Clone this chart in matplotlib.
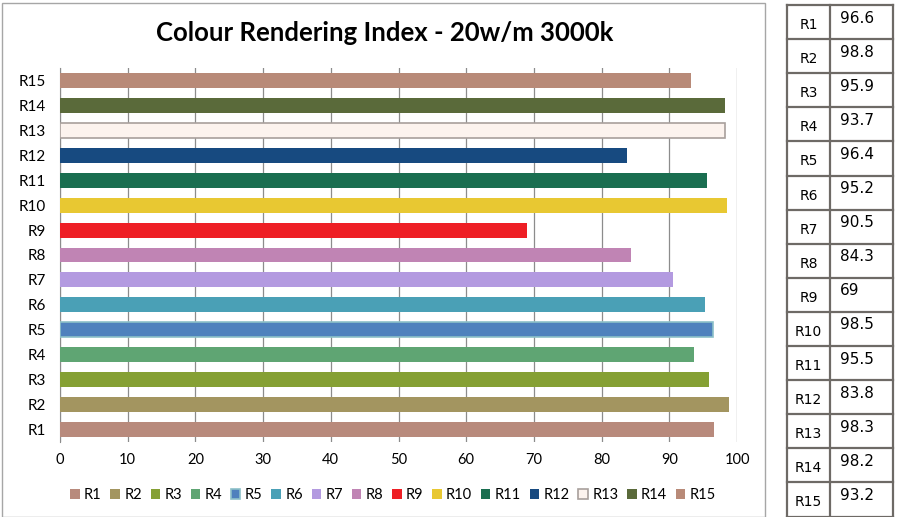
import matplotlib
matplotlib.use("Agg")
import matplotlib.pyplot as plt
from matplotlib.patches import Rectangle

labels = ["R1", "R2", "R3", "R4", "R5", "R6", "R7", "R8", "R9", "R10",
          "R11", "R12", "R13", "R14", "R15"]
values = [96.6, 98.8, 95.9, 93.7, 96.4, 95.2, 90.5, 84.3, 69, 98.5,
          95.5, 83.8, 98.3, 98.2, 93.2]
table_values = ["96.6", "98.8", "95.9", "93.7", "96.4", "95.2", "90.5", "84.3",
                "69", "98.5", "95.5", "83.8", "98.3", "98.2", "93.2"]
colors = ["#B88A7C", "#A39560", "#85A034", "#5FA573", "#4F81BD", "#4AA0B6",
          "#B39AE0", "#C084B4", "#EE1F25", "#E8C832", "#1A6E50", "#174A80",
          "#FCF3EE", "#5A6A3A", "#B88A78"]
edges = [None] * 15
edges[4] = "#8CC0C8"
edges[12] = "#A8A09C"

W, H = 901, 517
fig = plt.figure(figsize=(W / 100, H / 100), dpi=100)
font = "Lato"

# chart frame
fig.patches.append(Rectangle((2 / W, 0), 763 / W, 1 - 3 / H, transform=fig.transFigure,
                             fill=False, edgecolor="#A6A6A6", linewidth=1))

ax = fig.add_axes([60 / W, 1 - 442 / H, 677 / W, 374 / H])
for i, (v, c, e) in enumerate(zip(values, colors, edges)):
    ax.barh(i, v, height=0.6, color=c, edgecolor=e if e else c,
            linewidth=1.2 if e else 0, zorder=3, label=labels[i])

ax.set_xlim(0, 100)
ax.set_ylim(-0.5, 14.5)
ax.set_xticks(range(0, 101, 10))
ax.set_yticks(range(15))
ax.set_yticklabels(labels, fontname=font, fontsize=11)
for t in ax.get_xticklabels():
    t.set_fontname(font)
    t.set_fontsize(10.5)
ax.tick_params(length=0, pad=8)
ax.tick_params(axis="y", pad=10)
ax.grid(axis="x", color="#8C8C8C", linewidth=0.9, zorder=0)
for s in ["top", "right", "bottom"]:
    ax.spines[s].set_visible(False)
ax.spines["left"].set_color("#8C8C8C")

fig.text(385 / W, 1 - 33 / H, "Colour Rendering Index - 20w/m 3000k",
         ha="center", va="center", fontsize=18.5, fontweight="bold", fontname=font)

handles, lbls = ax.get_legend_handles_labels()
fig.legend(handles, lbls, loc="center", bbox_to_anchor=(393 / W, 1 - 495 / H), ncol=15,
           frameon=False, prop={"family": font, "size": 10.5}, handlelength=0.65,
           handleheight=0.65, handletextpad=0.3, columnspacing=0.6)

# value table on the right
x0, x1, x2 = 787, 830, 893
y_top, row_h = 5, 34.1
tab = fig.add_axes([0, 0, 1, 1], facecolor="none")
tab.set_xlim(0, W)
tab.set_ylim(H, 0)
tab.axis("off")
for k in range(16):
    y = y_top + k * row_h
    tab.plot([x0, x2], [y, y], color="#6E6A66", linewidth=1.6)
for x in (x0, x1, x2):
    tab.plot([x, x], [y_top, y_top + 15 * row_h], color="#6E6A66", linewidth=1.6)
for k, (lab, val) in enumerate(zip(labels, table_values)):
    yc = y_top + (k + 0.5) * row_h
    tab.text((x0 + x1) / 2, yc + 3, lab, ha="center", va="center",
             fontname="DejaVu Sans", fontsize=10)
    tab.text(x1 + 10, yc - 4, val, ha="left", va="center",
             fontname="DejaVu Sans", fontsize=11)

fig.savefig("out.png", dpi=100)
